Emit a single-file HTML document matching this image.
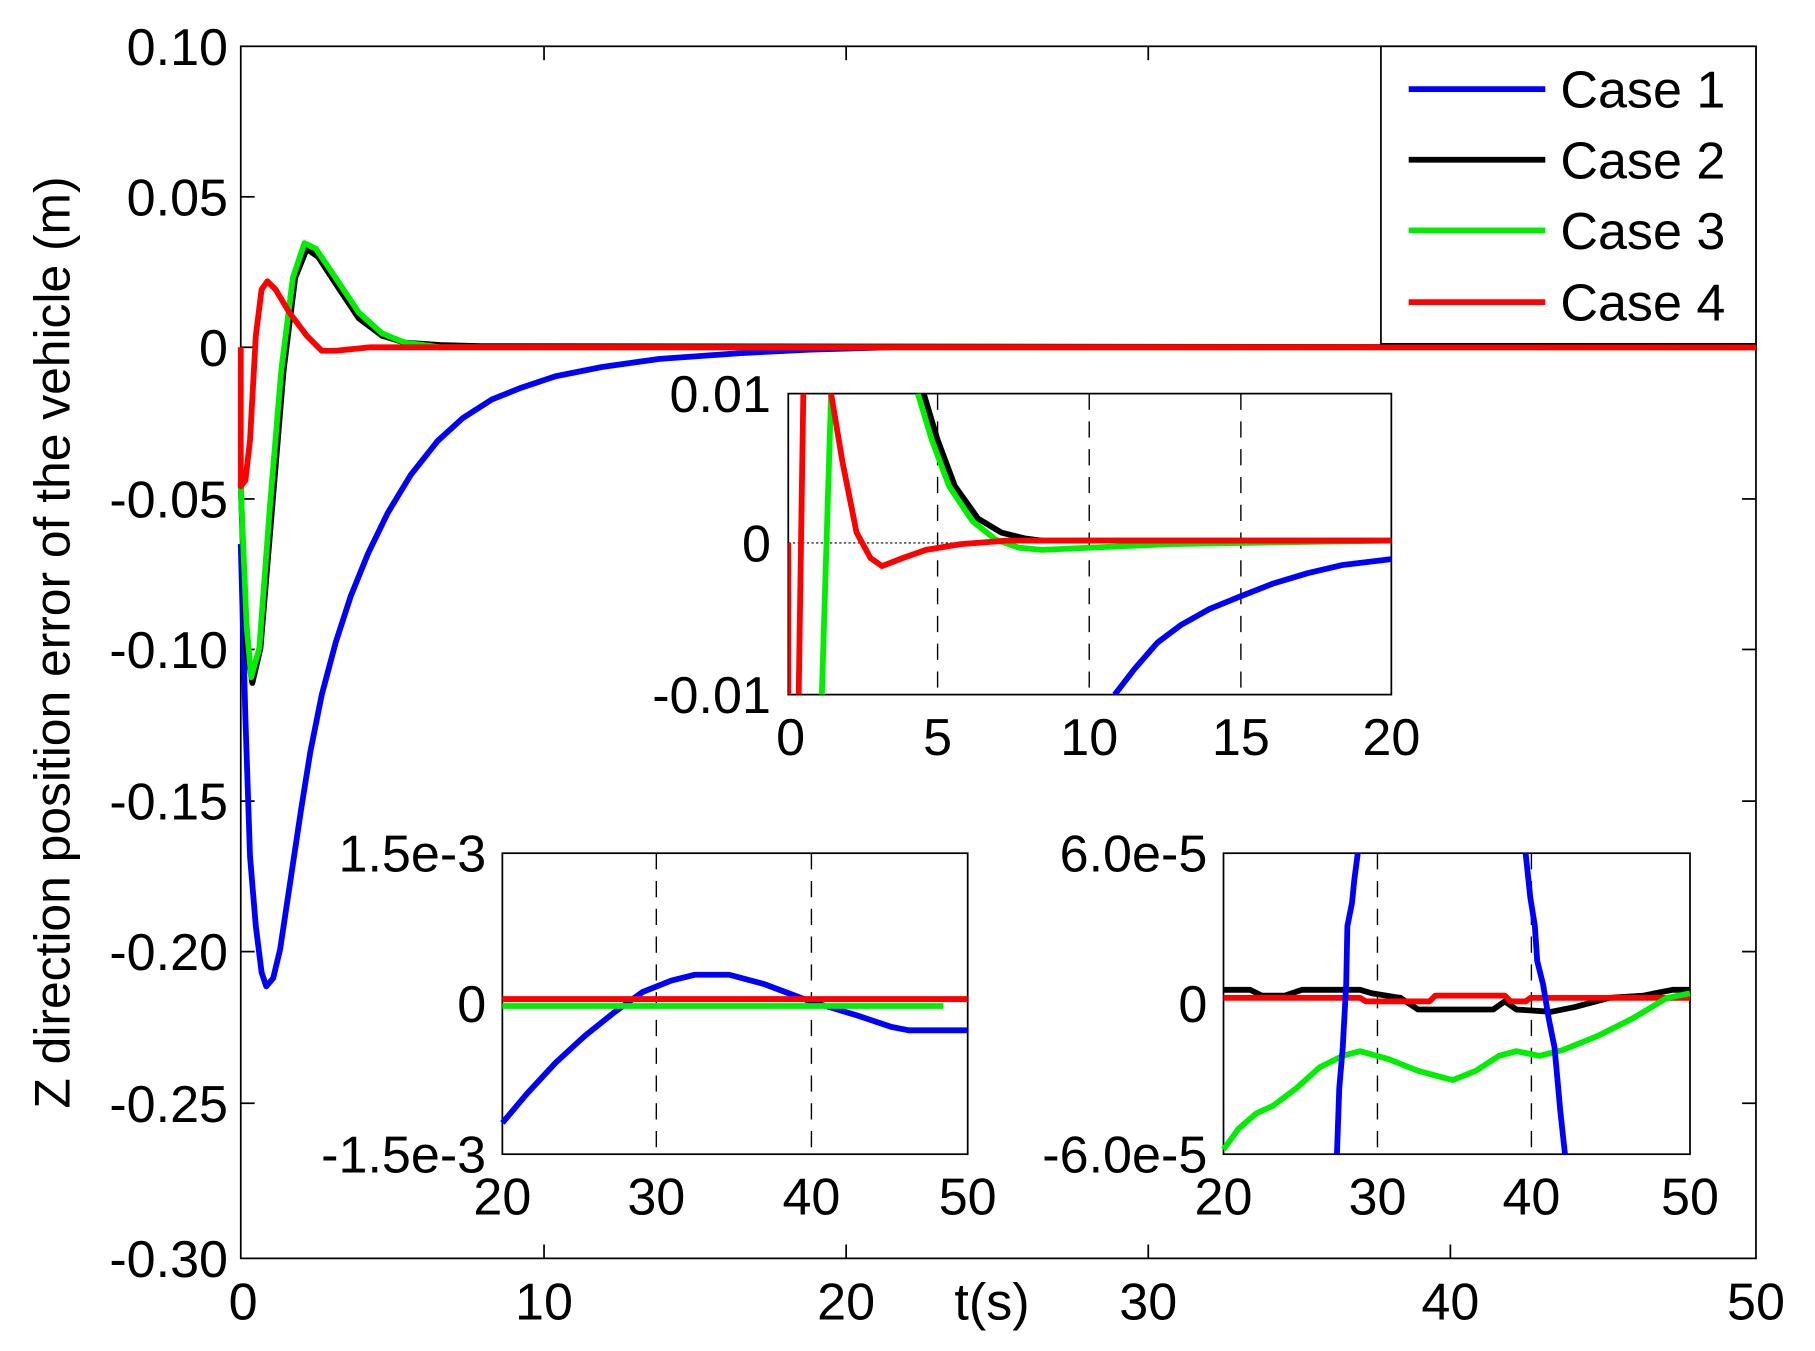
<!DOCTYPE html>
<html><head><style>html,body{margin:0;padding:0;background:#fff}svg{display:block}</style></head>
<body>
<svg width="1815" height="1351" viewBox="0 0 1568 1167" preserveAspectRatio="none" xmlns="http://www.w3.org/2000/svg" font-family="Liberation Sans, sans-serif" font-size="45">
<rect width="1568" height="1167" fill="#fff"/>
<rect x="208" y="40" width="1309" height="1047" fill="none" stroke="#000" stroke-width="1.5"/>
<g stroke="#000" stroke-width="1.5">
<line x1="208" y1="170" x2="220" y2="170"/><line x1="208" y1="300" x2="220" y2="300"/><line x1="208" y1="431" x2="220" y2="431"/><line x1="208" y1="561" x2="220" y2="561"/><line x1="208" y1="692" x2="220" y2="692"/><line x1="208" y1="822" x2="220" y2="822"/><line x1="208" y1="953" x2="220" y2="953"/>
<line x1="1505" y1="431" x2="1517" y2="431"/><line x1="1505" y1="561" x2="1517" y2="561"/><line x1="1505" y1="692" x2="1517" y2="692"/><line x1="1505" y1="822" x2="1517" y2="822"/><line x1="1505" y1="953" x2="1517" y2="953"/>
<line x1="470" y1="1087" x2="470" y2="1075"/><line x1="731" y1="1087" x2="731" y2="1075"/><line x1="992" y1="1087" x2="992" y2="1075"/><line x1="1253" y1="1087" x2="1253" y2="1075"/>
<line x1="470" y1="40" x2="470" y2="52"/><line x1="731" y1="40" x2="731" y2="52"/><line x1="992" y1="40" x2="992" y2="52"/>
</g>
<g text-anchor="end">
<text x="197" y="56">0.10</text><text x="197" y="186">0.05</text><text x="197" y="316">0</text><text x="197" y="447">-0.05</text><text x="197" y="577">-0.10</text><text x="197" y="708">-0.15</text><text x="197" y="838">-0.20</text><text x="197" y="969">-0.25</text><text x="197" y="1103">-0.30</text>
</g>
<g text-anchor="middle">
<text x="210" y="1140">0</text><text x="470" y="1140">10</text><text x="731" y="1140">20</text><text x="857" y="1140">t(s)</text><text x="992" y="1140">30</text><text x="1253" y="1140">40</text><text x="1517" y="1140">50</text>
</g>
<text transform="translate(60,555) rotate(-90)" text-anchor="middle" font-size="43">Z direction position error of the vehicle (m)</text>
<g fill="none" stroke-width="5" stroke-linejoin="round">
<polyline stroke="#0000ff" points="208,470 212,620 216,740 221,800 226,840 230,852 236,845 242,820 248,780 254,740 260,700 268,650 278,600 290,555 303,515 318,478 335,443 355,410 378,381 400,361 425,345 450,335 480,325 520,317 570,310 640,305 700,302 770,300"/>
<polyline stroke="#000" points="208,420 213,560 218,590 225,560 235,440 245,320 255,240 265,215 275,222 290,245 310,275 330,290 350,296 380,298 415,299 1517,300"/>
<polyline stroke="#00ee00" points="208,420 213,540 217,585 224,560 233,440 243,320 253,240 263,210 273,215 290,240 310,270 330,288 350,296 380,300 1517,300"/>
<polyline stroke="#ff0000" points="208,300 208,420 212,415 216,380 221,290 226,250 231,243 238,250 250,270 265,290 278,303 290,303 320,300 1517,300"/>
</g>
<rect x="1193" y="40" width="324" height="257" fill="#fff" stroke="#000" stroke-width="1.5"/>
<g stroke-width="5"><line x1="1217" y1="77" x2="1335" y2="77" stroke="#0000ff"/><line x1="1217" y1="138" x2="1335" y2="138" stroke="#000"/><line x1="1217" y1="199" x2="1335" y2="199" stroke="#00ee00"/><line x1="1217" y1="261" x2="1335" y2="261" stroke="#ff0000"/></g>
<text x="1348" y="93">Case 1</text><text x="1348" y="154">Case 2</text><text x="1348" y="215">Case 3</text><text x="1348" y="277">Case 4</text>
<!-- inset 1 -->
<rect x="681" y="340" width="521" height="260" fill="#fff" stroke="#000" stroke-width="1.5"/>
<g stroke="#000" stroke-width="1.2" stroke-dasharray="14,10"><line x1="810" y1="340" x2="810" y2="600"/><line x1="941" y1="340" x2="941" y2="600"/><line x1="1072" y1="340" x2="1072" y2="600"/></g>
<line x1="681" y1="469" x2="1202" y2="469" stroke="#000" stroke-width="1" stroke-dasharray="2,2"/>
<svg x="681" y="340" width="521" height="260" viewBox="681 340 521 260" overflow="hidden">
<g fill="none" stroke-width="5" stroke-linejoin="round">
<polyline stroke="#0000ff" points="963,600 980,578 1000,555 1020,540 1045,526 1072,515 1100,504 1130,495 1160,488 1202,483"/>
<polyline stroke="#000" points="798,340 810,380 825,420 845,448 865,460 885,465 900,467 1202,467"/>
<path stroke="#00ee00" d="M710,600 L714,470 L718,340 M793,340 L805,380 L820,420 L840,450 L860,466 L880,473 L900,475 L1010,470 L1202,467"/>
<path stroke="#ff0000" d="M681,600 L681,469 M690,600 L694,340 M718,340 L728,400 L740,460 L752,482 L762,489 L780,482 L800,475 L830,470 L870,467 L1202,467"/>
</g></svg>
<g text-anchor="end"><text x="666" y="356">0.01</text><text x="666" y="485">0</text><text x="666" y="616">-0.01</text></g>
<g text-anchor="middle"><text x="683" y="652">0</text><text x="810" y="652">5</text><text x="941" y="652">10</text><text x="1072" y="652">15</text><text x="1202" y="652">20</text></g>
<!-- inset 2 -->
<rect x="434" y="737" width="402" height="260" fill="#fff" stroke="#000" stroke-width="1.5"/>
<g stroke="#000" stroke-width="1.2" stroke-dasharray="14,10"><line x1="567" y1="737" x2="567" y2="997"/><line x1="701" y1="737" x2="701" y2="997"/></g>
<g fill="none" stroke-width="5" stroke-linejoin="round">
<polyline stroke="#0000ff" points="434,970 455,945 480,918 505,895 530,875 555,857 580,847 600,842 630,842 660,850 700,865 740,877 770,887 785,890 836,890"/>
<polyline stroke="#00ee00" points="434,869 815,869"/>
<polyline stroke="#ff0000" points="434,863 836,863"/>
</g>
<g text-anchor="end"><text x="420" y="753">1.5e-3</text><text x="420" y="883">0</text><text x="420" y="1013">-1.5e-3</text></g>
<g text-anchor="middle"><text x="434" y="1049">20</text><text x="567" y="1049">30</text><text x="701" y="1049">40</text><text x="836" y="1049">50</text></g>
<!-- inset 3 -->
<rect x="1057" y="737" width="403" height="260" fill="#fff" stroke="#000" stroke-width="1.5"/>
<g stroke="#000" stroke-width="1.2" stroke-dasharray="14,10"><line x1="1190" y1="737" x2="1190" y2="997"/><line x1="1323" y1="737" x2="1323" y2="997"/></g>
<g fill="none" stroke-width="5" stroke-linejoin="round">
<polyline stroke="#000" points="1057,855 1080,855 1090,860 1110,860 1125,855 1175,855 1185,858 1210,862 1225,872 1290,872 1300,865 1310,872 1340,874 1360,870 1390,862 1420,860 1445,855 1460,855"/>
<polyline stroke="#ff0000" points="1057,862 1175,862 1180,865 1235,865 1240,860 1300,860 1305,865 1318,865 1322,862 1460,862"/>
<polyline stroke="#00ee00" points="1057,993 1070,975 1085,962 1100,955 1120,940 1140,922 1160,912 1175,908 1200,915 1225,925 1255,933 1275,925 1295,912 1310,908 1330,912 1350,907 1380,895 1410,880 1440,862 1460,858"/>
<polyline stroke="#0000ff" points="1155,997 1157,940 1160,905 1163,850 1164,800 1168,780 1170,760 1173,737"/>
<polyline stroke="#0000ff" points="1318,737 1322,775 1326,800 1328,830 1333,850 1338,880 1343,905 1348,960 1352,997"/>
</g>
<g text-anchor="end"><text x="1043" y="753">6.0e-5</text><text x="1043" y="883">0</text><text x="1043" y="1013">-6.0e-5</text></g>
<g text-anchor="middle"><text x="1057" y="1049">20</text><text x="1190" y="1049">30</text><text x="1323" y="1049">40</text><text x="1460" y="1049">50</text></g>
</svg>
</body></html>
